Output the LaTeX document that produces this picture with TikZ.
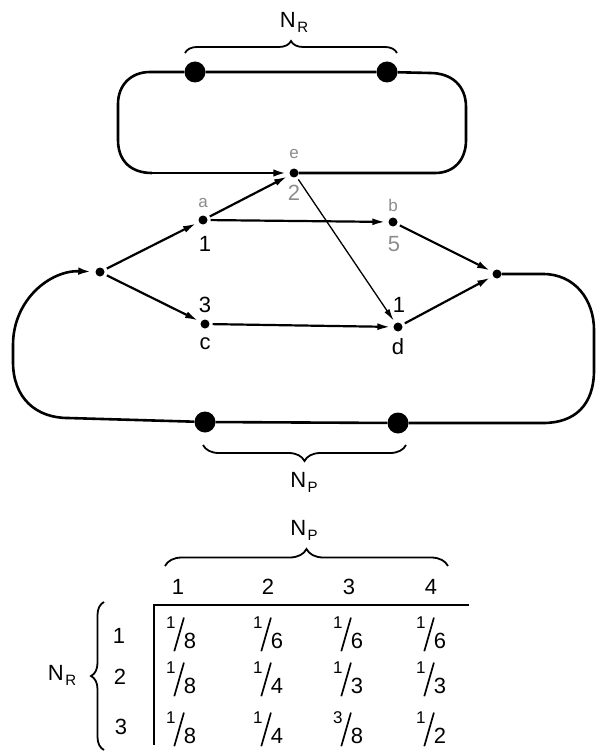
\documentclass[tikz,border=0pt]{standalone}
\usepackage{fontspec}
\setmainfont{Liberation Sans}
\usetikzlibrary{arrows.meta,decorations.pathreplacing}
\newcommand{\Nsub}[1]{N\kern1.5pt\raisebox{-5pt}{\fontsize{15}{15}\selectfont #1}}
\newcommand{\frc}[2]{\raisebox{20pt}{\fontsize{17}{17}\selectfont #1}\kern-2pt\raisebox{-3pt}{\rotatebox{-16}{\rule{1.7pt}{35pt}}}\kern-1pt{\fontsize{22}{22}\selectfont #2}}
\begin{document}
\begin{tikzpicture}[x=1pt,y=-1pt,
  dot/.style={circle,fill=black,inner sep=0pt,minimum size=9pt},
  bigdot/.style={circle,fill=black,inner sep=0pt,minimum size=21pt},
  lab/.style={inner sep=0pt,font=\fontsize{22}{26}\selectfont},
  faded/.style={lab,text=black!45},
  loopline/.style={line width=2.6pt,line join=round},
  edge/.style={line width=2.2pt,-{Latex[length=13pt,width=7pt]},shorten >=3pt,shorten <=3pt},
  thinedge/.style={line width=1.3pt,-{Latex[length=12pt,width=6pt]},shorten >=3pt,shorten <=3pt},
  brc/.style={line width=1.8pt,decorate,decoration={brace,amplitude=#1}},
  tline/.style={line width=1.5pt}]
\useasboundingbox (0,0) rectangle (595,754);

% network nodes
\node[dot] (s) at (100,272) {};
\node[dot] (a) at (203,220) {};
\node[dot] (b) at (393,222) {};
\node[dot] (e) at (294,173) {};
\node[dot] (c) at (205,324) {};
\node[dot] (d) at (398,327) {};
\node[dot] (t) at (497,274) {};
\node[bigdot] (R1) at (195,72) {};
\node[bigdot] (R2) at (387,72) {};
\node[bigdot] (P1) at (205,422) {};
\node[bigdot] (P2) at (398,423) {};

% labels near nodes
\node[faded,font=\fontsize{17}{19}\selectfont] (le1) at (294,154) {e};
\node[faded] (le2) at (294,193) {2};
\node[faded,font=\fontsize{17}{19}\selectfont] (la1) at (203,203) {a};
\node[lab] (la2) at (205,244) {1};
\node[faded,font=\fontsize{17}{19}\selectfont] (lb1) at (393,205) {b};
\node[faded] (lb2) at (394,244) {5};
\node[lab] (lc1) at (205,305) {3};
\node[lab] (lc2) at (205,344) {c};
\node[lab] (ld1) at (399,305) {1};
\node[lab] (ld2) at (398,347) {d};

% top loop
\coordinate (u1) at (435,173);
\coordinate (u2) at (466,140);
\coordinate (u3) at (466,107);
\coordinate (u4) at (430,73);
\coordinate (u5) at (150,72);
\coordinate (u6) at (118,104);
\coordinate (u7) at (118,140);
\coordinate (u8) at (152,173);
\draw[loopline] (e) -- (u1) .. controls (454,173) and (466,160) .. (u2) -- (u3)
  .. controls (466,86) and (452,73) .. (u4) -- (R2) -- (R1) -- (u5)
  .. controls (131,72) and (118,85) .. (u6) -- (u7)
  .. controls (118,161) and (131,173) .. (u8);
\draw[loopline,-{Latex[length=13pt,width=7.5pt]},shorten >=3pt] (u8) -- (e);

% bottom loop
\coordinate (v1) at (543,274);
\coordinate (v2) at (594,330);
\coordinate (v3) at (594,370);
\coordinate (v4) at (543,423);
\coordinate (v5) at (68,418);
\coordinate (v6) at (13,362);
\coordinate (v7) at (13,345);
\draw[loopline] (t) -- (v1) .. controls (575,274) and (594,300) .. (v2) -- (v3)
  .. controls (594,405) and (575,423) .. (v4) -- (P2) -- (P1) -- (v5)
  .. controls (36,418) and (13,398) .. (v6) -- (v7);
\draw[loopline,-{Latex[length=13pt,width=7.5pt]},shorten >=4pt] (v7) .. controls (13,300) and (50,270) .. (s);

% network edges
\draw[edge] (s) -- (a);
\draw[edge] (s) -- (c);
\draw[edge] (a) -- (e);
\draw[edge] (a) -- (b);
\draw[edge] (b) -- (t);
\draw[edge] (c) -- (d);
\draw[edge] (d) -- (t);
\draw[thinedge] (e) -- (d);

% braces and their labels
\coordinate (br1) at (185,53);
\coordinate (br2) at (397,53);
\draw[brc=12pt] (br1) -- (br2);
\node[lab] (NR1) at (294,22) {\Nsub{R}};
\coordinate (bp1) at (406,445);
\coordinate (bp2) at (203,445);
\draw[brc=16pt] (bp1) -- (bp2);
\node[lab] (NP1) at (304,482) {\Nsub{P}};

% table
\node[lab] (NP2) at (304,530) {\Nsub{P}};
\coordinate (bt1) at (165,566);
\coordinate (bt2) at (448,566);
\draw[brc=17pt] (bt1) -- (bt2);
\node[lab,anchor=base] (h1) at (178,594) {1};
\node[lab,anchor=base] (h2) at (268,594) {2};
\node[lab,anchor=base] (h3) at (349,594) {3};
\node[lab,anchor=base] (h4) at (431,594) {4};
\coordinate (tl1) at (154,605);
\coordinate (tl2) at (469,605);
\coordinate (tl3) at (154,745);
\draw[tline] (tl2) -- (tl1) -- (tl3);
\node[lab,anchor=base] (r1) at (119,643) {1};
\node[lab,anchor=base] (r2) at (120,684) {2};
\node[lab,anchor=base] (r3) at (121,734) {3};
\coordinate (bl1) at (104,750);
\coordinate (bl2) at (104,602);
\draw[brc=13pt] (bl1) -- (bl2);
\node[lab] (NR2) at (62,675) {\Nsub{R}};

\node[lab,anchor=base] (m11) at (181,648) {\frc{1}{8}};
\node[lab,anchor=base] (m12) at (268,648) {\frc{1}{6}};
\node[lab,anchor=base] (m13) at (348,648) {\frc{1}{6}};
\node[lab,anchor=base] (m14) at (431,648) {\frc{1}{6}};
\node[lab,anchor=base] (m21) at (181,693) {\frc{1}{8}};
\node[lab,anchor=base] (m22) at (268,693) {\frc{1}{4}};
\node[lab,anchor=base] (m23) at (348,693) {\frc{1}{3}};
\node[lab,anchor=base] (m24) at (431,693) {\frc{1}{3}};
\node[lab,anchor=base] (m31) at (181,743) {\frc{1}{8}};
\node[lab,anchor=base] (m32) at (268,743) {\frc{1}{4}};
\node[lab,anchor=base] (m33) at (348,743) {\frc{3}{8}};
\node[lab,anchor=base] (m34) at (431,743) {\frc{1}{2}};
\end{tikzpicture}
\end{document}
